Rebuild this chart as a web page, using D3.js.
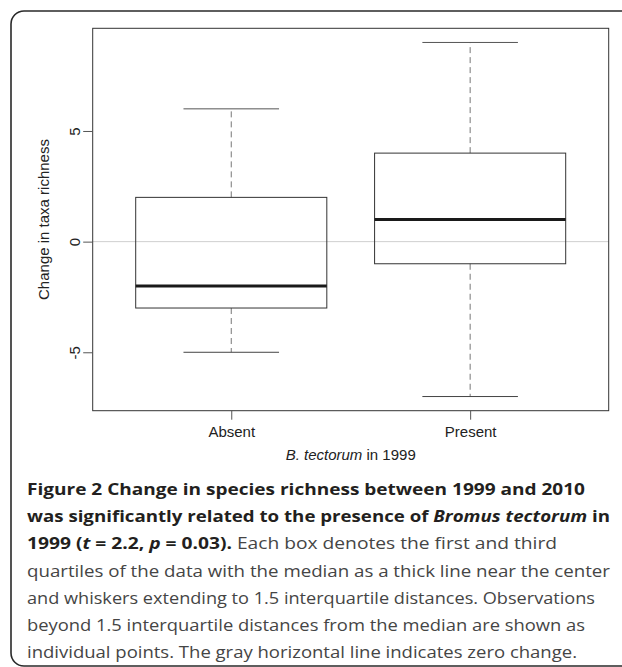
<!DOCTYPE html>
<html>
<head>
<meta charset="utf-8">
<script src="https://cdn.jsdelivr.net/npm/d3@7"></script>
<style>
  html, body { margin: 0; padding: 0; background: #fff; }
  svg { display: block; }
</style>
</head>
<body>
<svg id="chart" width="622" height="667"></svg>
<script>
// ---- data ----
const categories = ["Absent", "Present"];
const lowerWhisker = [-5, -7];
const q1 = [-3, -1];
const median = [-2, 1];
const q3 = [2, 4];
const upperWhisker = [6, 9];
const yTicks = [-5, 0, 5];
const yLabel = "Change in taxa richness";
const captionLines = [
  [["b", "Figure 2 Change in species richness between 1999 and 2010"]],
  [["b", "was significantly related to the presence of "], ["bi", "Bromus tectorum"], ["b", " in"]],
  [["b", "1999 ("], ["bi", "t"], ["b", " = 2.2, "], ["bi", "p"], ["b", " = 0.03)."], ["r", " Each box denotes the first and third"]],
  [["r", "quartiles of the data with the median as a thick line near the center"]],
  [["r", "and whiskers extending to 1.5 interquartile distances. Observations"]],
  [["r", "beyond 1.5 interquartile distances from the median are shown as"]],
  [["r", "individual points. The gray horizontal line indicates zero change."]]
];
const captionWidths = [558, 583, 530, 583, 568, 558, 550];

// ---- layout ----
const svg = d3.select("#chart");
const plot = { left: 92.7, right: 608.7, top: 28.3, bottom: 410.7 };
const sansFont = "'Liberation Sans', Arial, Helvetica, sans-serif";

// outer rounded border
svg.append("rect")
  .attr("x", 11).attr("y", 11)
  .attr("width", 700).attr("height", 655)
  .attr("rx", 13).attr("ry", 13)
  .attr("fill", "none").attr("stroke", "#2a2a2a").attr("stroke-width", 1.6);

const x = d3.scaleLinear().domain([0.42, 2.58]).range([plot.left, plot.right]);
const y = d3.scaleLinear().domain([-7.64, 9.64]).range([plot.bottom, plot.top]);
const boxW = x(1.4) - x(1);     // half box width (0.8 total)
const capW = boxW / 2;          // half staple width

const idx = categories.map((c, i) => i);

// zero line
svg.append("line")
  .attr("x1", plot.left).attr("x2", plot.right)
  .attr("y1", y(0)).attr("y2", y(0))
  .attr("stroke", "#cfcfcf").attr("stroke-width", 1);

const g = svg.append("g");

// whiskers (dashed)
g.selectAll(".wu").data(idx).join("line")
  .attr("x1", i => x(i + 1)).attr("x2", i => x(i + 1))
  .attr("y1", i => y(q3[i])).attr("y2", i => y(upperWhisker[i]))
  .attr("stroke", "#777").attr("stroke-width", 1).attr("stroke-dasharray", "6,4");
g.selectAll(".wl").data(idx).join("line")
  .attr("x1", i => x(i + 1)).attr("x2", i => x(i + 1))
  .attr("y1", i => y(q1[i])).attr("y2", i => y(lowerWhisker[i]))
  .attr("stroke", "#777").attr("stroke-width", 1).attr("stroke-dasharray", "6,4");

// staples
g.selectAll(".cu").data(idx).join("line")
  .attr("x1", i => x(i + 1) - capW).attr("x2", i => x(i + 1) + capW)
  .attr("y1", i => y(upperWhisker[i])).attr("y2", i => y(upperWhisker[i]))
  .attr("stroke", "#555").attr("stroke-width", 1);
g.selectAll(".cl").data(idx).join("line")
  .attr("x1", i => x(i + 1) - capW).attr("x2", i => x(i + 1) + capW)
  .attr("y1", i => y(lowerWhisker[i])).attr("y2", i => y(lowerWhisker[i]))
  .attr("stroke", "#444").attr("stroke-width", 1);

// boxes
g.selectAll(".box").data(idx).join("rect")
  .attr("x", i => x(i + 1) - boxW)
  .attr("width", 2 * boxW)
  .attr("y", i => y(q3[i]))
  .attr("height", i => y(q1[i]) - y(q3[i]))
  .attr("fill", "none").attr("stroke", "#333").attr("stroke-width", 1);

// medians
g.selectAll(".med").data(idx).join("line")
  .attr("x1", i => x(i + 1) - boxW).attr("x2", i => x(i + 1) + boxW)
  .attr("y1", i => y(median[i])).attr("y2", i => y(median[i]))
  .attr("stroke", "#1a1a1a").attr("stroke-width", 3);

// plot frame
svg.append("rect")
  .attr("x", plot.left).attr("y", plot.top)
  .attr("width", plot.right - plot.left).attr("height", plot.bottom - plot.top)
  .attr("fill", "none").attr("stroke", "#333").attr("stroke-width", 1);

// y axis
const yAxis = svg.append("g")
  .attr("transform", `translate(${plot.left},0)`)
  .call(d3.axisLeft(y).tickValues(yTicks).tickSize(9.5).tickFormat(d => String(d)));
yAxis.select(".domain").remove();
yAxis.selectAll(".tick line").attr("stroke", "#555");
yAxis.selectAll(".tick text")
  .attr("transform", "rotate(-90)")
  .attr("x", 0).attr("y", -12.5).attr("dy", 0)
  .attr("text-anchor", "middle")
  .attr("fill", "#222")
  .style("font-family", sansFont).style("font-size", "15px");

// x axis
const xAxis = svg.append("g")
  .attr("transform", `translate(0,${plot.bottom})`)
  .call(d3.axisBottom(x).tickValues(idx.map(i => i + 1)).tickSize(9)
    .tickFormat((d, i) => categories[i]));
xAxis.select(".domain").remove();
xAxis.selectAll(".tick line").attr("stroke", "#555");
xAxis.selectAll(".tick text")
  .attr("y", 26.3).attr("dy", 0)
  .attr("fill", "#222")
  .style("font-family", sansFont).style("font-size", "15px");

// y label
svg.append("text")
  .attr("transform", `translate(49,${(plot.top + plot.bottom) / 2}) rotate(-90)`)
  .attr("text-anchor", "middle")
  .attr("fill", "#222")
  .style("font-family", sansFont).style("font-size", "15px")
  .text(yLabel);

// x label
const xl = svg.append("text")
  .attr("x", (plot.left + plot.right) / 2).attr("y", 460)
  .attr("text-anchor", "middle")
  .attr("fill", "#222")
  .style("font-family", sansFont).style("font-size", "15px");
xl.append("tspan").style("font-style", "italic").text("B. tectorum");
xl.append("tspan").text(" in 1999");

// caption
const capFont = "'Open Sans', 'Noto Sans', sans-serif";
captionLines.forEach((line, li) => {
  const t = svg.append("text")
    .attr("x", 27).attr("y", 495 + li * 27.2)
    .style("font-family", capFont).style("font-size", "16px")
    .attr("textLength", captionWidths[li])
    .attr("lengthAdjust", "spacingAndGlyphs");
  line.forEach(([kind, str]) => {
    const s = t.append("tspan").text(str);
    if (kind === "b" || kind === "bi") s.style("font-weight", "bold").attr("fill", "#231f20");
    else s.style("font-weight", "normal").attr("fill", "#454545");
    if (kind === "bi") s.style("font-style", "italic");
  });
});
</script>
</body>
</html>
